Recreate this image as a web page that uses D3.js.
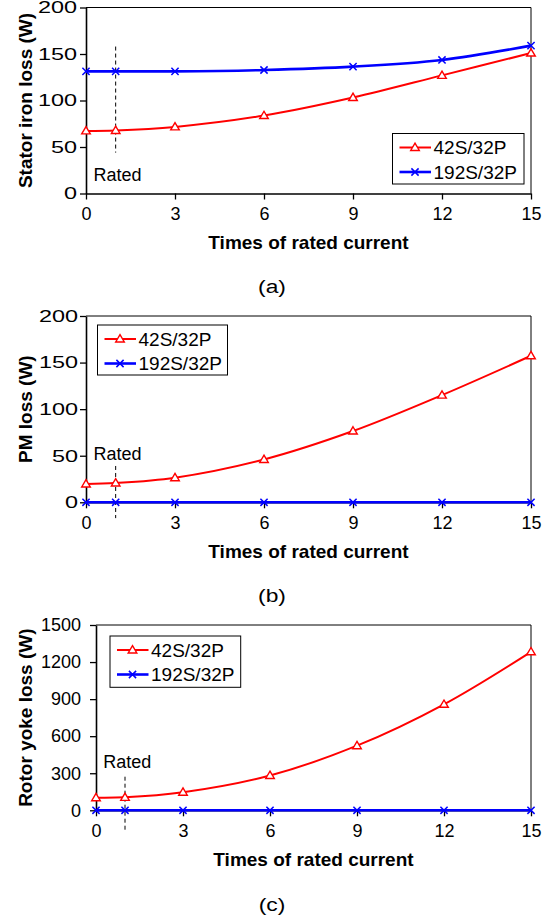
<!DOCTYPE html>
<html><head><meta charset="utf-8">
<script src="https://cdn.jsdelivr.net/npm/d3@7"></script>
<style>
body{margin:0;background:#fff}
svg{display:block}
text{font-family:Arial,"Liberation Sans",Helvetica,sans-serif;fill:#000}
</style>
</head><body><svg id="c" width="554" height="918"></svg>
<script>
// ---------- data ----------
const currentTimes = [0, 1, 3, 6, 9, 12, 15];
const seriesNames = ["42S/32P", "192S/32P"];
const statorIron42 = [67.3, 67.8, 71.6, 83.8, 103.2, 127, 151];
const statorIron192 = [131.3, 131.3, 131.3, 132.8, 136.4, 143.6, 159];
const pmLoss42 = [19.7, 20.7, 26.4, 46, 76.5, 115.1, 157.3];
const pmLoss192 = [0, 0, 0, 0, 0, 0, 0];
const rotorYoke42 = [102, 105, 146, 282, 523, 858, 1283];
const rotorYoke192 = [0, 0, 0, 0, 0, 0, 0];
const xTicks = [0, 3, 6, 9, 12, 15];
const yTicksA = [0, 50, 100, 150, 200];
const yTicksB = [0, 50, 100, 150, 200];
const yTicksC = [0, 300, 600, 900, 1200, 1500];
const yTitles = ["Stator iron loss (W)", "PM loss (W)", "Rotor yoke loss (W)"];
const xTitle = "Times of rated current";
const captions = ["(a)", "(b)", "(c)"];
const ratedLabel = "Rated";
const ratedAt = 1;

// ---------- layout ----------
const layouts = [
  {s: [statorIron42, statorIron192], yMax: 200, ticks: yTicksA, left: 86, right: 531, top: 7.5, bottom: 193.5,
   legend: [392.5, 133.5, 131.5, 50.5], ratedSpan: [158, 44], ratedTextVal: 20.6,
   yLabFont: 16.5, yLabScale: 1.42, yLabGap: 9, xTitleY: 242, capY: 287},
  {s: [pmLoss42, pmLoss192], yMax: 200, ticks: yTicksB, left: 86, right: 531, top: 316, bottom: 502.3,
   legend: [97.5, 325, 130, 50], ratedSpan: [39, -17], ratedTextVal: 52.6,
   yLabFont: 16.5, yLabScale: 1.42, yLabGap: 8, xTitleY: 551, capY: 596},
  {s: [rotorYoke42, rotorYoke192], yMax: 1500, ticks: yTicksC, left: 96, right: 531, top: 625, bottom: 810.3,
   legend: [110, 636, 130.7, 51.3], ratedSpan: [272, -160], ratedTextVal: 393,
   yLabFont: 18, yLabScale: 1, yLabGap: 15, xTitleY: 859, capY: 905}
];
const colors = ["#ff0000", "#0000ff"];
const lineW = [2, 2.6];

const svg = d3.select("#c");

function marker(g, k, x, y) {
  if (k === 0) {
    g.append("path").attr("d", "M0,-4.3L4.3,3L-4.3,3Z")
      .attr("transform", `translate(${x},${y})`)
      .attr("fill", "#fff").attr("stroke", colors[0]).attr("stroke-width", 1.4);
  } else {
    g.append("path").attr("d", "M-3.6,-3.6L3.6,3.6M-3.6,3.6L3.6,-3.6")
      .attr("transform", `translate(${x},${y})`)
      .attr("fill", "none").attr("stroke", colors[1]).attr("stroke-width", 1.5);
  }
}

layouts.forEach((L, i) => {
  const x = d3.scaleLinear().domain([0, 15]).range([L.left, L.right]);
  const y = d3.scaleLinear().domain([0, L.yMax]).range([L.bottom, L.top]);
  const g = svg.append("g");

  // frame (top/right)
  g.append("path")
    .attr("d", `M${L.left},${L.top}H${L.right}V${L.bottom}`)
    .attr("fill", "none").attr("stroke", "#000").attr("stroke-width", 1);

  // axes
  const ax = g.append("g").attr("transform", `translate(0,${L.bottom})`)
    .call(d3.axisBottom(x).tickValues(xTicks).tickFormat(d3.format("d")).tickSize(6).tickPadding(8).tickSizeOuter(0));
  ax.select(".domain").attr("stroke-width", 1.6);
  ax.selectAll(".tick line").attr("stroke-width", 1.3);
  ax.selectAll("text").attr("font-size", 18).attr("font-family", "Arial, 'Liberation Sans', sans-serif");

  const ay = g.append("g").attr("transform", `translate(${L.left},0)`)
    .call(d3.axisLeft(y).tickValues(L.ticks).tickFormat(d3.format("d")).tickSize(6).tickSizeOuter(0));
  ay.select(".domain").attr("stroke-width", 1.6);
  ay.selectAll(".tick line").attr("stroke-width", 1.3);
  ay.selectAll("text")
    .attr("font-size", L.yLabFont)
    .attr("font-family", "Arial, 'Liberation Sans', sans-serif")
    .attr("x", -L.yLabGap / L.yLabScale)
    .attr("transform", `scale(${L.yLabScale},1)`);

  // rated marker
  g.append("line")
    .attr("x1", x(ratedAt)).attr("x2", x(ratedAt))
    .attr("y1", y(L.ratedSpan[0])).attr("y2", y(L.ratedSpan[1]))
    .attr("stroke", "#000").attr("stroke-width", 1).attr("stroke-dasharray", "4,3");
  g.append("text").attr("x", x(0.25)).attr("y", y(L.ratedTextVal)).attr("dy", "0.35em")
    .attr("font-size", 18).text(ratedLabel);

  // series
  const line = d3.line().x((d, j) => x(currentTimes[j])).y(d => y(d)).curve(d3.curveCatmullRom.alpha(0.5));
  [1, 0].forEach(k => {
    g.append("path").datum(L.s[k]).attr("d", line)
      .attr("fill", "none").attr("stroke", colors[k]).attr("stroke-width", lineW[k]);
  });
  [1, 0].forEach(k => {
    L.s[k].forEach((v, j) => marker(g, k, x(currentTimes[j]), y(v)));
  });

  // legend
  const [bx, by, bw, bh] = L.legend;
  g.append("rect").attr("x", bx).attr("y", by).attr("width", bw).attr("height", bh)
    .attr("fill", "#fff").attr("stroke", "#000").attr("stroke-width", 1);
  seriesNames.forEach((name, k) => {
    const ry = by + 14 + k * 24.5;
    g.append("line").attr("x1", bx + 7).attr("x2", bx + 38.5).attr("y1", ry).attr("y2", ry)
      .attr("stroke", colors[k]).attr("stroke-width", lineW[k]);
    marker(g, k, bx + 22.5, ry);
    g.append("text").attr("x", bx + 41).attr("y", ry).attr("dy", "0.36em")
      .attr("font-size", 19).text(name);
  });

  // titles
  g.append("text").attr("x", (L.left + L.right) / 2).attr("y", L.xTitleY).attr("dy", "0.36em")
    .attr("text-anchor", "middle").attr("font-size", 19).attr("font-weight", "bold").text(xTitle);
  g.append("text")
    .attr("transform", `translate(25,${(L.top + L.bottom) / 2}) rotate(-90)`)
    .attr("dy", "0.36em").attr("text-anchor", "middle")
    .attr("font-size", 19).attr("font-weight", "bold").text(yTitles[i]);

  // caption
  g.append("text")
    .attr("transform", `translate(272,${L.capY}) scale(1.2,1)`)
    .attr("dy", "0.33em").attr("text-anchor", "middle")
    .attr("font-family", "'Liberation Serif','Times New Roman',serif")
    .attr("font-size", 19).text(captions[i]);
});
</script>
</body></html>
